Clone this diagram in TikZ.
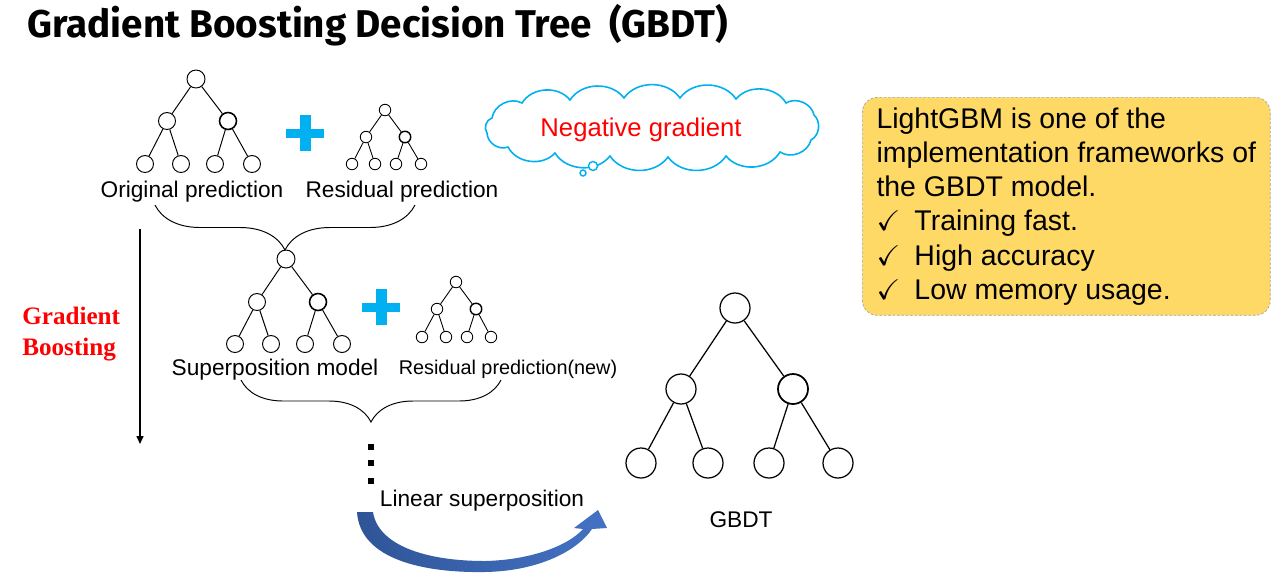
\documentclass[tikz,border=0pt]{standalone}
\usepackage{fontspec}
\usepackage{amssymb}
\setmainfont{Liberation Sans}
\newfontfamily\tnrfont{Liberation Serif}
\newfontfamily\titlefont{Fira Sans}
\usetikzlibrary{decorations.pathreplacing,arrows.meta}

\definecolor{plusblue}{RGB}{0,176,240}
\definecolor{boxyellow}{RGB}{255,217,102}
\definecolor{arrowdark}{RGB}{47,85,151}
\definecolor{arrowlight}{RGB}{68,114,196}

\begin{document}
\begin{tikzpicture}[x=0.02cm, y=-0.02cm,
    tnode/.style={circle, draw, inner sep=0pt, minimum size=0.34cm, line width=0.55pt},
    snode/.style={circle, draw, inner sep=0pt, minimum size=0.23cm, line width=0.5pt},
    gnode/.style={circle, draw, inner sep=0pt, minimum size=0.6cm, line width=0.7pt},
    lbl/.style={font=\fontsize{12.9}{15}\selectfont},
    dotbox/.style={rectangle, fill=black, inner sep=0pt, minimum size=0.12cm},
    cloudline/.style={draw=plusblue, line width=0.9pt, fill=white}]
  \useasboundingbox (0,0) rectangle (1277,576);

  % title
  \node[anchor=west, inner sep=0pt, font=\titlefont\bfseries\fontsize{22}{26}\selectfont] (title) at (27,25)
      {Gradient Boosting Decision Tree\hspace{0.45em}(GBDT)};

  % original prediction tree
  \node[tnode, minimum size=0.36cm] (o0) at (196,79) {};
  \node[tnode] (o1) at (167,121) {};
  \node[tnode, line width=0.9pt] (o2) at (228,121) {};
  \node[tnode] (o3) at (145,164) {};
  \node[tnode] (o4) at (181,164) {};
  \node[tnode] (o5) at (215,164) {};
  \node[tnode] (o6) at (252,164) {};
  \path[line width=0.55pt] (o0) edge (o1) edge (o2)
        (o1) edge (o3) edge (o4)
        (o2) edge (o5) edge (o6);

  % residual prediction tree
  \node[snode] (r0) at (385,110) {};
  \node[snode] (r1) at (366,137) {};
  \node[snode, line width=0.8pt] (r2) at (405,137) {};
  \node[snode] (r3) at (352,164) {};
  \node[snode] (r4) at (375,164) {};
  \node[snode] (r5) at (396,164) {};
  \node[snode] (r6) at (421,164) {};
  \path[line width=0.5pt] (r0) edge (r1) edge (r2)
        (r1) edge (r3) edge (r4)
        (r2) edge (r5) edge (r6);

  \coordinate (p1) at (305,133);
  \fill[plusblue] (p1) ++(-19,-4.5) rectangle ++(38,9);
  \fill[plusblue] (p1) ++(-5.5,-18) rectangle ++(11,36);

  \node[lbl] (orig) at (192,192) {Original prediction};
  \node[lbl] (res) at (402,192) {Residual prediction};

  \coordinate (b1l) at (155,205);
  \coordinate (b1r) at (415,205);
  \draw[decorate, decoration={brace, amplitude=0.9cm}, line width=0.55pt] (b1r) -- (b1l);

  % superposition tree
  \node[tnode, minimum size=0.36cm] (s0) at (286,259) {};
  \node[tnode] (s1) at (257,302) {};
  \node[tnode, line width=0.9pt] (s2) at (318,302) {};
  \node[tnode] (s3) at (235,344) {};
  \node[tnode] (s4) at (271,344) {};
  \node[tnode] (s5) at (305,344) {};
  \node[tnode] (s6) at (342,344) {};
  \path[line width=0.55pt] (s0) edge (s1) edge (s2)
        (s1) edge (s3) edge (s4)
        (s2) edge (s5) edge (s6);

  % new residual tree
  \node[snode] (n0) at (456,282) {};
  \node[snode] (n1) at (437,309) {};
  \node[snode, line width=0.8pt] (n2) at (476,309) {};
  \node[snode] (n3) at (422,337) {};
  \node[snode] (n4) at (446,337) {};
  \node[snode] (n5) at (467,337) {};
  \node[snode] (n6) at (491,337) {};
  \path[line width=0.5pt] (n0) edge (n1) edge (n2)
        (n1) edge (n3) edge (n4)
        (n2) edge (n5) edge (n6);

  \coordinate (p2) at (381,307);
  \fill[plusblue] (p2) ++(-19,-4.5) rectangle ++(38,9);
  \fill[plusblue] (p2) ++(-5.5,-18) rectangle ++(11,36);

  \node[lbl] (sup) at (275,370) {Superposition model};
  \node[font=\fontsize{11.3}{13}\selectfont] (resn) at (508,369) {Residual prediction(new)};

  \coordinate (b2l) at (241,380);
  \coordinate (b2r) at (501,380);
  \draw[decorate, decoration={brace, amplitude=0.84cm}, line width=0.55pt] (b2r) -- (b2l);

  % gradient boosting arrow
  \coordinate (gtop) at (140,229);
  \coordinate (gbot) at (140,444);
  \draw[line width=0.85pt, -{Triangle[length=0.16cm, width=0.14cm]}] (gtop) -- (gbot);
  \node[anchor=west, align=left, inner sep=0pt, text=red,
        font=\tnrfont\bfseries\fontsize{14.3}{18.1}\selectfont] (gb) at (22,334)
      {Gradient\\Boosting};

  \node[dotbox] (d1) at (371,447) {};
  \node[dotbox] (d2) at (371,463) {};
  \node[dotbox] (d3) at (371,481) {};

  \node[lbl] (lin) at (482,501) {Linear superposition};

  % curved arrow
  \shade[left color=arrowdark, right color=arrowlight]
    (357,512) .. controls (360,560) and (425,573) .. (485,572)
    .. controls (540,571) and (578,550) .. (592,529)
    -- (607,528) -- (598,510) -- (574,528) -- (583,529)
    .. controls (568,546) and (530,560) .. (485,561)
    .. controls (425,561) and (378,545) .. (373,512) -- cycle;

  % GBDT tree
  \node[gnode] (g0) at (735,308) {};
  \node[gnode] (g1) at (681,389) {};
  \node[gnode, line width=1pt] (g2) at (793,389) {};
  \node[gnode] (g3) at (641,463) {};
  \node[gnode] (g4) at (708,463) {};
  \node[gnode] (g5) at (769,463) {};
  \node[gnode] (g6) at (838,463) {};
  \path[line width=0.7pt] (g0) edge (g1) edge (g2)
        (g1) edge (g3) edge (g4)
        (g2) edge (g5) edge (g6);
  \node[lbl] (gbdt) at (741,520) {GBDT};

  % negative gradient cloud
  \draw[cloudline] (492,118) to[bend left=55] (522,103) to[bend left=55] (570,100)
    to[bend left=55] (624,98) to[bend left=55] (680,98) to[bend left=55] (736,99)
    to[bend left=55] (786,103) to[bend left=55] (814,115) to[bend left=55] (811,140)
    to[bend left=55] (780,152) to[bend left=55] (726,156) to[bend left=55] (668,157)
    to[bend left=55] (610,156) to[bend left=55] (555,153) to[bend left=55] (508,147)
    to[bend left=55] (487,133) to[bend left=55] (492,118) -- cycle;
  \node[text=red, font=\fontsize{14.6}{17}\selectfont] (negt) at (641,130) {Negative gradient};
  \node[circle, draw=plusblue, line width=0.8pt, fill=white, inner sep=0pt, minimum size=0.18cm] (tb1) at (593,166) {};
  \node[circle, draw=plusblue, line width=0.8pt, fill=white, inner sep=0pt, minimum size=0.12cm] (tb2) at (583,173) {};

  % LightGBM box
  \node[anchor=north west, draw=gray!70, dash pattern=on 1.5pt off 1pt, line width=0.4pt,
        fill=boxyellow, rounded corners=0.3cm, minimum width=8.16cm, minimum height=4.36cm,
        align=left, font=\fontsize{16.2}{19.5}\selectfont] (box) at (862,97)
      {LightGBM is one of the\\
       implementation frameworks of\\
       the GBDT model.\\
       \makebox[0.76cm][l]{$\checkmark$}Training fast.\\
       \makebox[0.76cm][l]{$\checkmark$}High accuracy\\
       \makebox[0.76cm][l]{$\checkmark$}Low memory usage.\rule[-3pt]{0pt}{1pt}};
\end{tikzpicture}
\end{document}
